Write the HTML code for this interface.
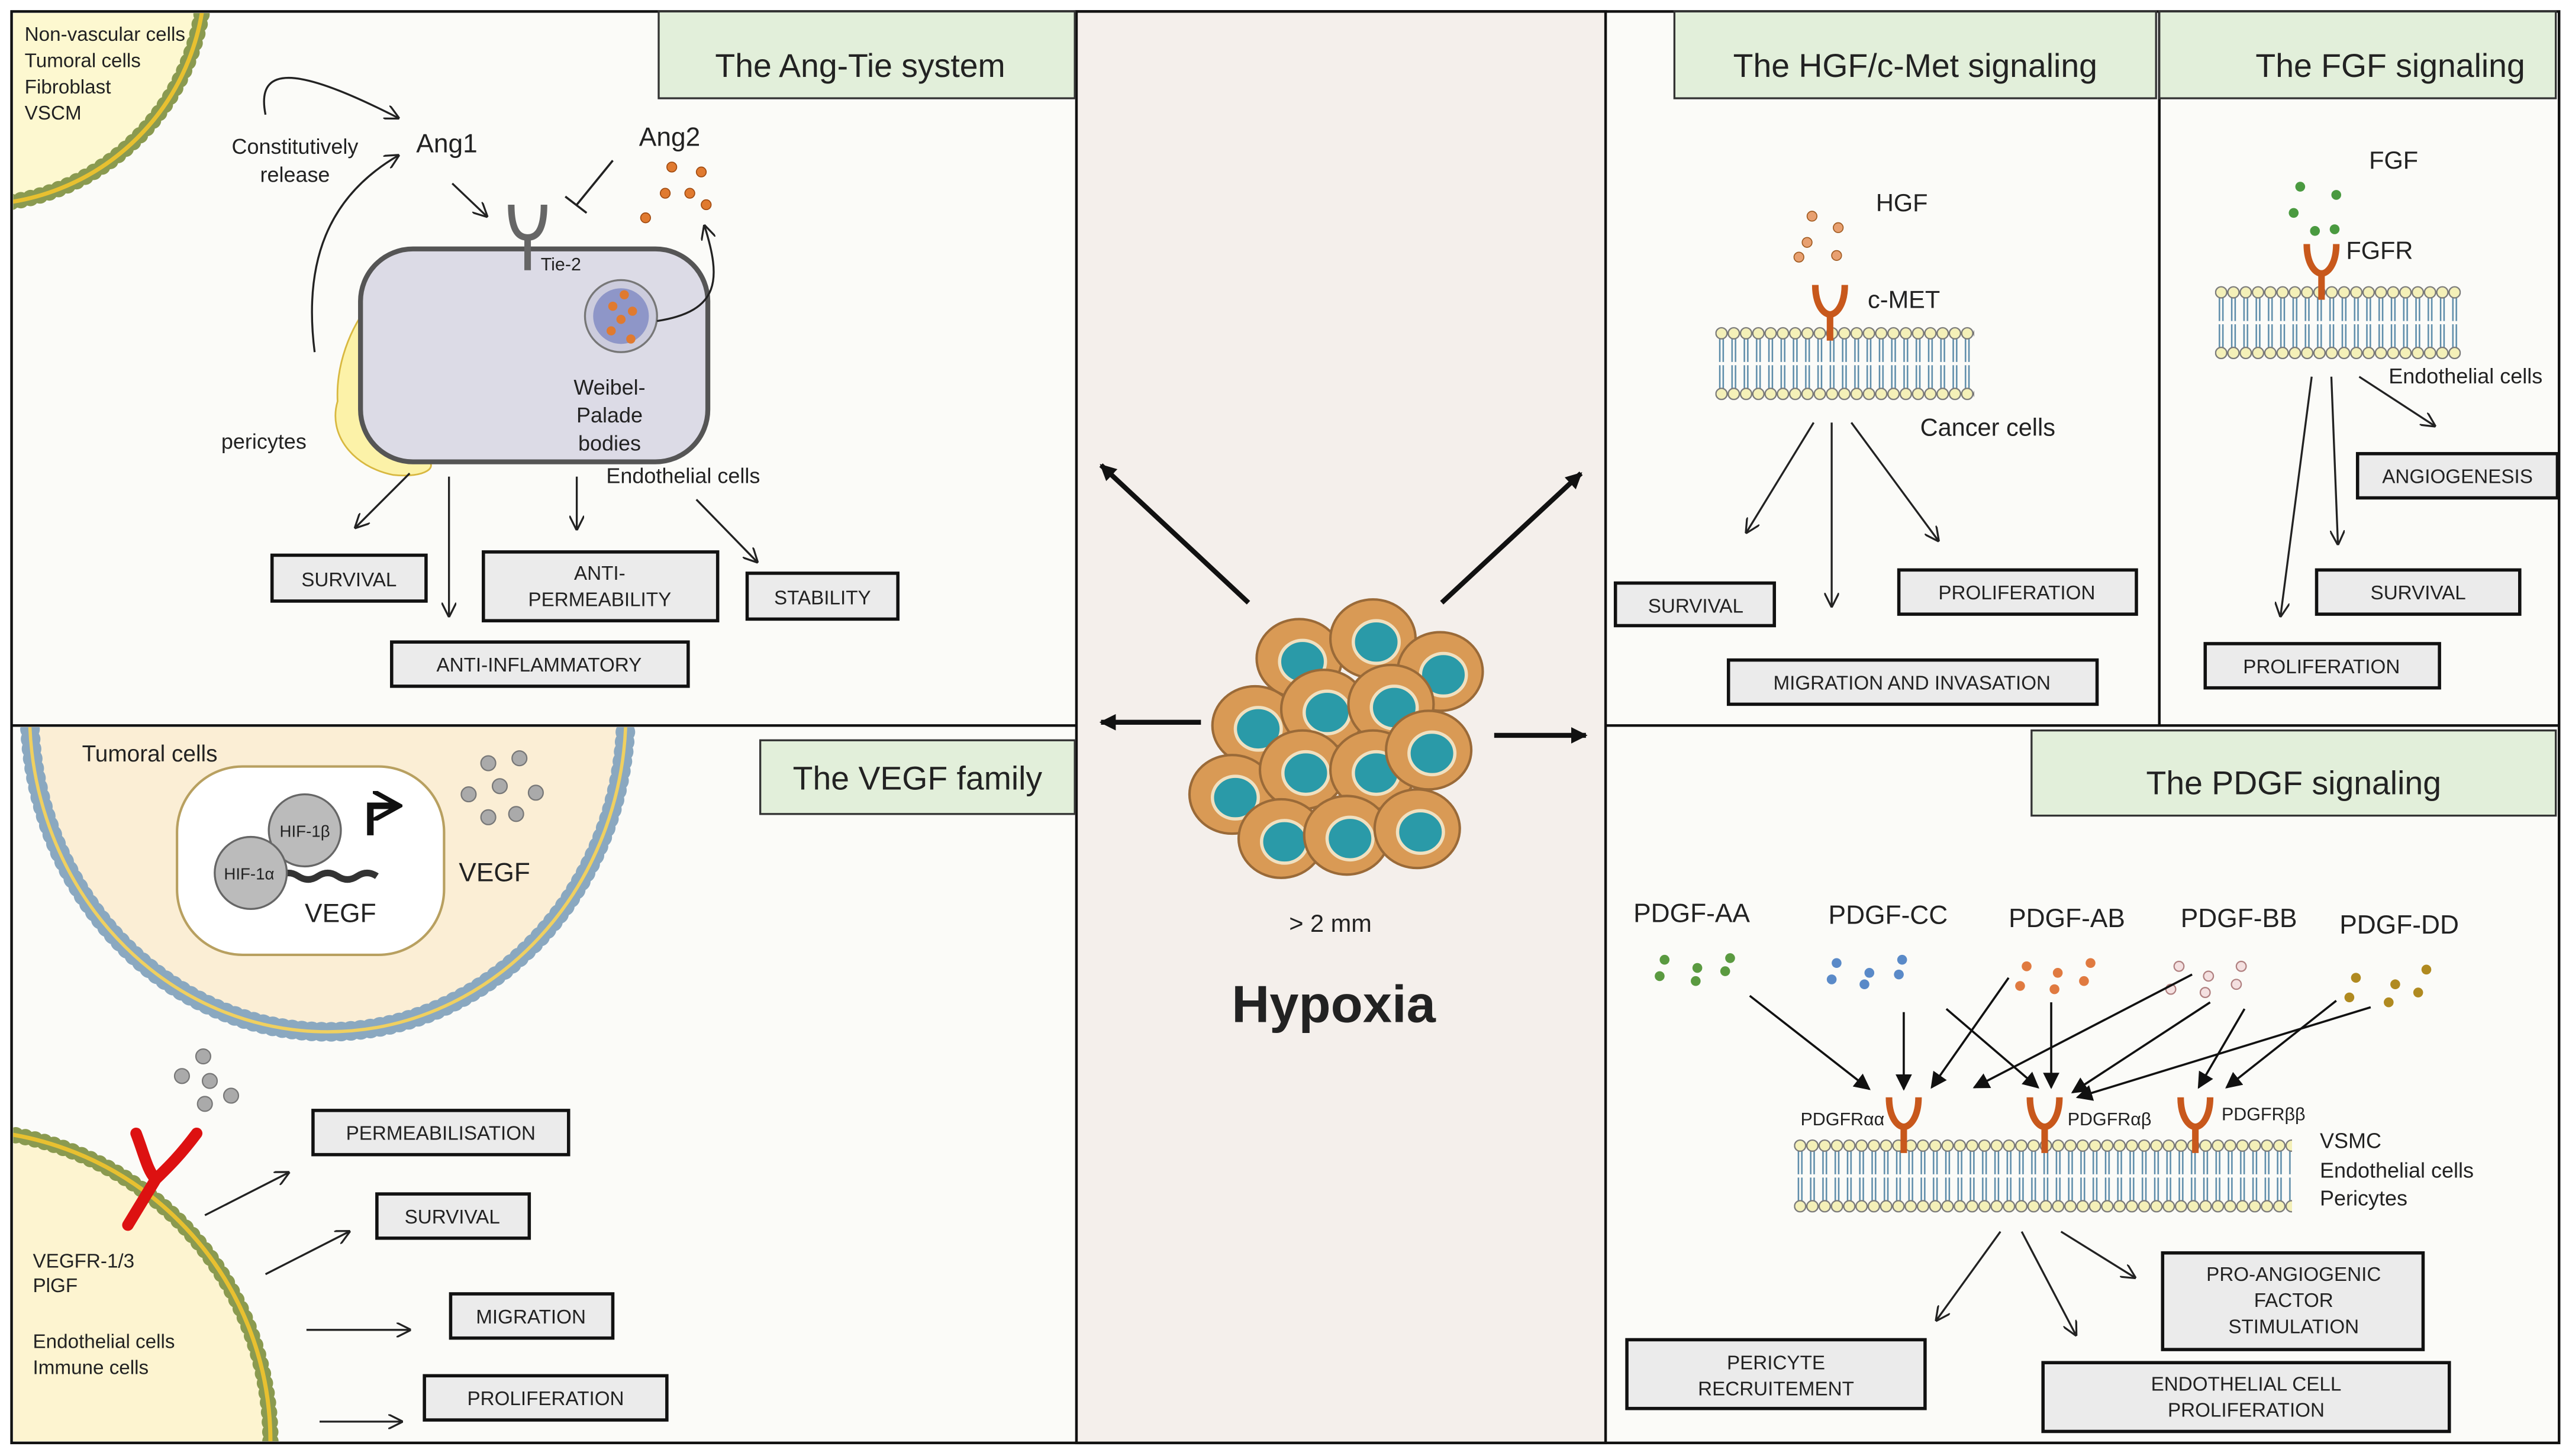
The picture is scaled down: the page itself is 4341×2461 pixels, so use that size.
<!DOCTYPE html>
<html><head><meta charset="utf-8"><style>
html,body{margin:0;padding:0;background:#fff;overflow:hidden;width:4341px;height:2461px}
svg{display:block}
text{font-family:"Liberation Sans",sans-serif;fill:#222}
.t{font-size:20px}
.b{font-size:12px}
.l{font-size:13px}
</style></head><body>
<svg width="4341" height="2461" viewBox="0 0 1568 889" xmlns="http://www.w3.org/2000/svg">
<defs>
<marker id="ar" viewBox="0 0 10 10" refX="9" refY="5" markerWidth="9" markerHeight="9" orient="auto-start-reverse" markerUnits="userSpaceOnUse"><path d="M0,0 L10,5 L0,10" fill="none" stroke="#222" stroke-width="1.3"/></marker>
<marker id="af" viewBox="0 0 10 10" refX="9" refY="5" markerWidth="10" markerHeight="10" orient="auto" markerUnits="userSpaceOnUse"><path d="M0,0 L10,5 L0,10 z" fill="#111"/></marker>
<marker id="ab" viewBox="0 0 10 10" refX="8" refY="5" markerWidth="18" markerHeight="18" orient="auto" markerUnits="userSpaceOnUse"><path d="M0,0 L9,5 L0,10" fill="none" stroke="#111" stroke-width="1.6"/></marker>
<pattern id="bil" x="0" y="0" width="7.5" height="46" patternUnits="userSpaceOnUse">
<path d="M2.7,8 v14 M4.8,8 v14 M2.7,24 v14 M4.8,24 v14" stroke="#5a8aa8" stroke-width="0.9" fill="none"/>
<circle cx="3.75" cy="4.5" r="3.4" fill="#f4f0b8" stroke="#777" stroke-width="0.8"/>
<circle cx="3.75" cy="41.5" r="3.4" fill="#f4f0b8" stroke="#777" stroke-width="0.8"/>
</pattern>
<g id="rec"><path d="M-9,-16 C-9,-4 -4,2 0,2 C4,2 9,-4 9,-16" fill="none" stroke="#c8581c" stroke-width="4"/><path d="M0,0 v18" stroke="#c8581c" stroke-width="4"/></g>
<g id="cell"><ellipse cx="0" cy="0" rx="26" ry="24" fill="#d99a55" stroke="#9a6a38" stroke-width="1.5"/><ellipse cx="2" cy="2" rx="14" ry="13" fill="#2a9aa8" stroke="#f0e0c0" stroke-width="2"/></g>
</defs>

<rect width="1568" height="889" fill="#fff"/>
<rect x="7" y="7" width="1555" height="874" fill="#fbfbf8" stroke="#111" stroke-width="1.6"/>
<rect x="657" y="7" width="323" height="874" fill="#f4efeb" stroke="#111" stroke-width="1.6"/>
<line x1="7" y1="443" x2="657" y2="443" stroke="#111" stroke-width="1.6"/>
<line x1="980" y1="443" x2="1562" y2="443" stroke="#111" stroke-width="1.6"/>
<line x1="1318" y1="7" x2="1318" y2="443" stroke="#111" stroke-width="1.6"/>

<!-- ===== Ang-Tie ===== -->
<clipPath id="c1"><rect x="8" y="8" width="648" height="434"/></clipPath>
<g clip-path="url(#c1)">
<circle cx="-15" cy="-15" r="140" fill="#fdf8d0" stroke="#8a9a50" stroke-width="10" stroke-dasharray="0 6" stroke-linecap="round"/>
<circle cx="-15" cy="-15" r="140" fill="none" stroke="#e8c030" stroke-width="2.5"/>
</g>
<text x="15" y="25" class="b">Non-vascular cells</text>
<text x="15" y="41" class="b">Tumoral cells</text>
<text x="15" y="57" class="b">Fibroblast</text>
<text x="15" y="73" class="b">VSCM</text>
<rect x="402" y="7" width="254" height="53" fill="#e2efda" stroke="#333" stroke-width="1.2"/>
<text x="525" y="47" class="t" text-anchor="middle">The Ang-Tie system</text>
<path d="M162,70 C155,35 190,45 243,72" fill="none" stroke="#222" stroke-width="1.2" marker-end="url(#ar)"/>
<text x="180" y="94" class="l" text-anchor="middle">Constitutively</text>
<text x="180" y="111" class="l" text-anchor="middle">release</text>
<text x="254" y="93" font-size="16">Ang1</text>
<text x="390" y="89" font-size="16">Ang2</text>
<path d="M192,215 C185,160 200,120 243,95" fill="none" stroke="#222" stroke-width="1.2" marker-end="url(#ar)"/>
<path d="M276,112 L297,132" stroke="#222" stroke-width="1.2" marker-end="url(#ar)"/>
<path d="M374,98 L352,125 M345,120 L358,130" stroke="#222" stroke-width="1.3" fill="none"/>
<g fill="#e07a30" stroke="#a04a10" stroke-width="0.6"><circle cx="410" cy="102" r="3"/><circle cx="428" cy="105" r="3"/><circle cx="406" cy="118" r="3"/><circle cx="421" cy="118" r="3"/><circle cx="431" cy="125" r="3"/><circle cx="394" cy="133" r="3"/></g>
<path d="M230,180 C212,200 205,225 206,245 C200,265 215,285 240,290 C260,292 268,285 260,280 Z" fill="#fcf2a8" stroke="#d8b840" stroke-width="1"/>
<rect x="220" y="152" width="212" height="130" rx="32" fill="#dcdbe6" stroke="#555" stroke-width="3"/>
<path d="M312,125 C312,140 316,145 322,145 C328,145 332,140 332,125" fill="none" stroke="#666" stroke-width="4"/>
<path d="M322,145 v20" stroke="#666" stroke-width="4"/>
<text x="330" y="165" font-size="11">Tie-2</text>
<circle cx="379" cy="193" r="22" fill="#ccccdd" stroke="#777" stroke-width="1.2"/>
<circle cx="379" cy="193" r="17" fill="#8e96c8"/>
<g fill="#e07a30"><circle cx="381" cy="180" r="2.8"/><circle cx="374" cy="187" r="2.8"/><circle cx="386" cy="190" r="2.8"/><circle cx="379" cy="195" r="2.8"/><circle cx="373" cy="202" r="2.8"/><circle cx="385" cy="207" r="2.8"/></g>
<path d="M401,196 C440,190 440,170 430,138" fill="none" stroke="#222" stroke-width="1.2" marker-end="url(#ar)"/>
<text x="372" y="241" class="l" text-anchor="middle">Weibel-</text>
<text x="372" y="258" class="l" text-anchor="middle">Palade</text>
<text x="372" y="275" class="l" text-anchor="middle">bodies</text>
<text x="135" y="274" class="l">pericytes</text>
<text x="370" y="295" class="l">Endothelial cells</text>
<path d="M250,289 L217,322" stroke="#222" stroke-width="1.2" marker-end="url(#ar)"/>
<path d="M274,291 L274,376" stroke="#222" stroke-width="1.2" marker-end="url(#ar)"/>
<path d="M352,291 L352,323" stroke="#222" stroke-width="1.2" marker-end="url(#ar)"/>
<path d="M425,305 L462,343" stroke="#222" stroke-width="1.2" marker-end="url(#ar)"/>
<g fill="#ebebeb" stroke="#111" stroke-width="2">
<rect x="166" y="339" width="94" height="28"/><rect x="295" y="337" width="143" height="42"/><rect x="456" y="350" width="92" height="28"/><rect x="239" y="392" width="181" height="27"/>
</g>
<text x="213" y="358" class="b" text-anchor="middle">SURVIVAL</text>
<text x="366" y="354" class="b" text-anchor="middle">ANTI-</text>
<text x="366" y="370" class="b" text-anchor="middle">PERMEABILITY</text>
<text x="502" y="369" class="b" text-anchor="middle">STABILITY</text>
<text x="329" y="410" class="b" text-anchor="middle">ANTI-INFLAMMATORY</text>

<!-- ===== VEGF ===== -->
<clipPath id="c2"><rect x="8" y="444" width="648" height="436"/></clipPath>
<g clip-path="url(#c2)">
<ellipse cx="200" cy="435" rx="182" ry="195" fill="#fbeed5" stroke="#8aa8c0" stroke-width="12" stroke-dasharray="0 6" stroke-linecap="round"/>
<ellipse cx="200" cy="435" rx="182" ry="195" fill="none" stroke="#f0d060" stroke-width="2"/>
<circle cx="-25" cy="880" r="190" fill="#fdf4d0" stroke="#8a9a50" stroke-width="10" stroke-dasharray="0 6" stroke-linecap="round"/>
<circle cx="-25" cy="880" r="190" fill="none" stroke="#e8c030" stroke-width="2.5"/>
</g>
<rect x="108" y="468" width="163" height="115" rx="40" fill="#fff" stroke="#b8a060" stroke-width="1.5"/>
<text x="50" y="465" font-size="14">Tumoral cells</text>
<rect x="464" y="452" width="192" height="45" fill="#e2efda" stroke="#333" stroke-width="1.2"/>
<text x="560" y="482" class="t" text-anchor="middle">The VEGF family</text>
<path d="M170,535 q6,-4 12,0 q6,4 12,0 q6,-4 12,0 q6,4 12,0 q6,-4 12,0" fill="none" stroke="#333" stroke-width="4"/>
<circle cx="186" cy="507" r="22" fill="#bbb" stroke="#666" stroke-width="1.2"/>
<circle cx="153" cy="533" r="22" fill="#bbb" stroke="#666" stroke-width="1.2"/>
<text x="186" y="511" font-size="10" text-anchor="middle">HIF-1β</text>
<text x="152" y="537" font-size="10" text-anchor="middle">HIF-1α</text>
<path d="M226,510 v-18 h16" fill="none" stroke="#111" stroke-width="4" marker-end="url(#ab)"/>
<text x="186" y="563" font-size="16" font-family="Liberation Serif">VEGF</text>
<text x="280" y="538" font-size="16" font-family="Liberation Serif">VEGF</text>
<g fill="#aaa" stroke="#777" stroke-width="0.8"><circle cx="298" cy="466" r="4.5"/><circle cx="317" cy="463" r="4.5"/><circle cx="286" cy="485" r="4.5"/><circle cx="305" cy="480" r="4.5"/><circle cx="327" cy="484" r="4.5"/><circle cx="298" cy="499" r="4.5"/><circle cx="315" cy="497" r="4.5"/>
<circle cx="124" cy="645" r="4.5"/><circle cx="111" cy="657" r="4.5"/><circle cx="128" cy="660" r="4.5"/><circle cx="141" cy="669" r="4.5"/><circle cx="125" cy="674" r="4.5"/></g>
<path d="M83,692 C88,705 90,715 95,720 M120,692 C108,708 100,715 95,720 M95,720 L78,748" fill="none" stroke="#dd1111" stroke-width="7" stroke-linecap="round"/>
<text x="20" y="774" class="b">VEGFR-1/3</text>
<text x="20" y="789" class="b">PlGF</text>
<text x="20" y="823" class="b">Endothelial cells</text>
<text x="20" y="839" class="b">Immune cells</text>
<path d="M125,742 L176,716" stroke="#222" stroke-width="1.2" marker-end="url(#ar)"/>
<path d="M162,778 L213,752" stroke="#222" stroke-width="1.2" marker-end="url(#ar)"/>
<path d="M187,812 L250,812" stroke="#222" stroke-width="1.2" marker-end="url(#ar)"/>
<path d="M195,868 L245,868" stroke="#222" stroke-width="1.2" marker-end="url(#ar)"/>
<g fill="#ebebeb" stroke="#111" stroke-width="2">
<rect x="191" y="678" width="156" height="27"/><rect x="230" y="729" width="93" height="27"/><rect x="275" y="790" width="99" height="27"/><rect x="259" y="840" width="148" height="27"/>
</g>
<text x="269" y="696" class="b" text-anchor="middle">PERMEABILISATION</text>
<text x="276" y="747" class="b" text-anchor="middle">SURVIVAL</text>
<text x="324" y="808" class="b" text-anchor="middle">MIGRATION</text>
<text x="333" y="858" class="b" text-anchor="middle">PROLIFERATION</text>

<!-- ===== Hypoxia ===== -->
<path d="M762,368 L672,284" stroke="#111" stroke-width="3" marker-end="url(#af)"/>
<path d="M880,368 L965,289" stroke="#111" stroke-width="3" marker-end="url(#af)"/>
<path d="M733,441 L672,441" stroke="#111" stroke-width="3" marker-end="url(#af)"/>
<path d="M912,449 L968,449" stroke="#111" stroke-width="3" marker-end="url(#af)"/>
<use href="#cell" x="793" y="402"/><use href="#cell" x="838" y="390"/><use href="#cell" x="879" y="410"/>
<use href="#cell" x="766" y="443"/><use href="#cell" x="808" y="433"/><use href="#cell" x="849" y="430"/>
<use href="#cell" x="752" y="485"/><use href="#cell" x="795" y="470"/><use href="#cell" x="838" y="470"/><use href="#cell" x="872" y="458"/>
<use href="#cell" x="782" y="512"/><use href="#cell" x="822" y="510"/><use href="#cell" x="865" y="506"/>
<text x="812" y="569" font-size="15" font-family="Liberation Serif" text-anchor="middle">&gt; 2 mm</text>
<text x="814" y="624" font-size="32" font-weight="bold" text-anchor="middle">Hypoxia</text>

<!-- ===== HGF ===== -->
<rect x="1022" y="7" width="294" height="53" fill="#e2efda" stroke="#333" stroke-width="1.2"/>
<text x="1169" y="47" class="t" text-anchor="middle">The HGF/c-Met signaling</text>
<text x="1145" y="129" font-size="15">HGF</text>
<g fill="#e8a070" stroke="#a05a20" stroke-width="0.6"><circle cx="1106" cy="132" r="3"/><circle cx="1122" cy="139" r="3"/><circle cx="1103" cy="148" r="3"/><circle cx="1098" cy="157" r="3"/><circle cx="1121" cy="156" r="3"/></g>
<text x="1140" y="188" font-size="15">c-MET</text>
<g transform="translate(1047,199)"><rect width="158" height="46" fill="url(#bil)"/></g>
<use href="#rec" x="1117" y="190"/>
<text x="1172" y="266" font-size="15">Cancer cells</text>
<path d="M1107,258 L1066,325" stroke="#222" stroke-width="1.2" marker-end="url(#ar)"/>
<path d="M1118,258 L1118,370" stroke="#222" stroke-width="1.2" marker-end="url(#ar)"/>
<path d="M1130,258 L1183,330" stroke="#222" stroke-width="1.2" marker-end="url(#ar)"/>
<g fill="#ebebeb" stroke="#111" stroke-width="2">
<rect x="986" y="356" width="97" height="26"/><rect x="1159" y="348" width="145" height="27"/><rect x="1055" y="403" width="225" height="27"/>
</g>
<text x="1035" y="374" class="b" text-anchor="middle">SURVIVAL</text>
<text x="1231" y="366" class="b" text-anchor="middle">PROLIFERATION</text>
<text x="1167" y="421" class="b" text-anchor="middle">MIGRATION  AND INVASATION</text>

<!-- ===== FGF ===== -->
<rect x="1318" y="7" width="242" height="53" fill="#e2efda" stroke="#333" stroke-width="1.2"/>
<text x="1459" y="47" class="t" text-anchor="middle">The FGF signaling</text>
<text x="1446" y="103" font-size="15">FGF</text>
<g fill="#4a9a40"><circle cx="1404" cy="114" r="3"/><circle cx="1426" cy="119" r="3"/><circle cx="1400" cy="130" r="3"/><circle cx="1413" cy="141" r="3"/><circle cx="1425" cy="140" r="3"/></g>
<text x="1432" y="158" font-size="15">FGFR</text>
<g transform="translate(1352,174)"><rect width="150" height="46" fill="url(#bil)"/></g>
<use href="#rec" x="1417" y="165"/>
<text x="1458" y="234" class="l">Endothelial cells</text>
<path d="M1440,230 L1486,260" stroke="#222" stroke-width="1.2" marker-end="url(#ar)"/>
<path d="M1423,230 L1427,332" stroke="#222" stroke-width="1.2" marker-end="url(#ar)"/>
<path d="M1411,230 L1392,376" stroke="#222" stroke-width="1.2" marker-end="url(#ar)"/>
<g fill="#ebebeb" stroke="#111" stroke-width="2">
<rect x="1439" y="277" width="122" height="27"/><rect x="1414" y="348" width="124" height="27"/><rect x="1346" y="393" width="143" height="27"/>
</g>
<text x="1500" y="295" class="b" text-anchor="middle">ANGIOGENESIS</text>
<text x="1476" y="366" class="b" text-anchor="middle">SURVIVAL</text>
<text x="1417" y="411" class="b" text-anchor="middle">PROLIFERATION</text>

<!-- ===== PDGF ===== -->
<rect x="1240" y="446" width="320" height="52" fill="#e2efda" stroke="#333" stroke-width="1.2"/>
<text x="1400" y="485" class="t" text-anchor="middle">The PDGF signaling</text>
<g font-size="16"><text x="997" y="563">PDGF-AA</text><text x="1116" y="564">PDGF-CC</text><text x="1226" y="566">PDGF-AB</text><text x="1331" y="566">PDGF-BB</text><text x="1428" y="570">PDGF-DD</text></g>
<g fill="#5a9a40"><circle cx="1016" cy="586" r="3"/><circle cx="1036" cy="591" r="3"/><circle cx="1056" cy="585" r="3"/><circle cx="1013" cy="596" r="3"/><circle cx="1035" cy="599" r="3"/><circle cx="1053" cy="593" r="3"/></g>
<g fill="#5a8ac8"><circle cx="1121" cy="588" r="3"/><circle cx="1141" cy="594" r="3"/><circle cx="1161" cy="586" r="3"/><circle cx="1118" cy="598" r="3"/><circle cx="1138" cy="601" r="3"/><circle cx="1159" cy="595" r="3"/></g>
<g fill="#e07a40"><circle cx="1237" cy="590" r="3"/><circle cx="1256" cy="594" r="3"/><circle cx="1276" cy="588" r="3"/><circle cx="1233" cy="602" r="3"/><circle cx="1254" cy="604" r="3"/><circle cx="1272" cy="599" r="3"/></g>
<g fill="#f4e0e0" stroke="#b08080" stroke-width="0.8"><circle cx="1330" cy="590" r="3"/><circle cx="1348" cy="596" r="3"/><circle cx="1368" cy="590" r="3"/><circle cx="1325" cy="604" r="3"/><circle cx="1346" cy="606" r="3"/><circle cx="1365" cy="601" r="3"/></g>
<g fill="#b08a20"><circle cx="1438" cy="597" r="3"/><circle cx="1462" cy="601" r="3"/><circle cx="1481" cy="592" r="3"/><circle cx="1434" cy="609" r="3"/><circle cx="1458" cy="612" r="3"/><circle cx="1476" cy="606" r="3"/></g>
<g stroke="#111" stroke-width="1.3" marker-end="url(#af)">
<path d="M1068,608 L1141,665"/><path d="M1162,618 L1162,665"/><path d="M1188,616 L1244,664"/><path d="M1226,597 L1179,664"/>
<path d="M1252,612 L1252,664"/><path d="M1338,595 L1205,664"/><path d="M1349,612 L1265,667"/>
<path d="M1370,616 L1342,664"/><path d="M1426,611 L1359,664"/><path d="M1447,615 L1268,670"/>
</g>
<g transform="translate(1095,695)"><rect width="304" height="46" fill="url(#bil)"/></g>
<use href="#rec" x="1162" y="686"/><use href="#rec" x="1248" y="686"/><use href="#rec" x="1340" y="686"/>
<text x="1099" y="687" font-size="11">PDGFRαα</text>
<text x="1262" y="687" font-size="11">PDGFRαβ</text>
<text x="1356" y="684" font-size="11">PDGFRββ</text>
<text x="1416" y="701" class="l">VSMC</text>
<text x="1416" y="719" class="l">Endothelial cells</text>
<text x="1416" y="736" class="l">Pericytes</text>
<path d="M1221,752 L1182,806" stroke="#222" stroke-width="1.2" marker-end="url(#ar)"/>
<path d="M1234,752 L1267,815" stroke="#222" stroke-width="1.2" marker-end="url(#ar)"/>
<path d="M1258,752 L1303,780" stroke="#222" stroke-width="1.2" marker-end="url(#ar)"/>
<g fill="#ebebeb" stroke="#111" stroke-width="2">
<rect x="1320" y="765" width="159" height="59"/><rect x="993" y="818" width="182" height="42"/><rect x="1247" y="832" width="248" height="42"/>
</g>
<text x="1400" y="782" class="b" text-anchor="middle">PRO-ANGIOGENIC</text>
<text x="1400" y="798" class="b" text-anchor="middle">FACTOR</text>
<text x="1400" y="814" class="b" text-anchor="middle">STIMULATION</text>
<text x="1084" y="836" class="b" text-anchor="middle">PERICYTE</text>
<text x="1084" y="852" class="b" text-anchor="middle">RECRUITEMENT</text>
<text x="1371" y="849" class="b" text-anchor="middle">ENDOTHELIAL  CELL</text>
<text x="1371" y="865" class="b" text-anchor="middle">PROLIFERATION</text>
</svg>
</body></html>
